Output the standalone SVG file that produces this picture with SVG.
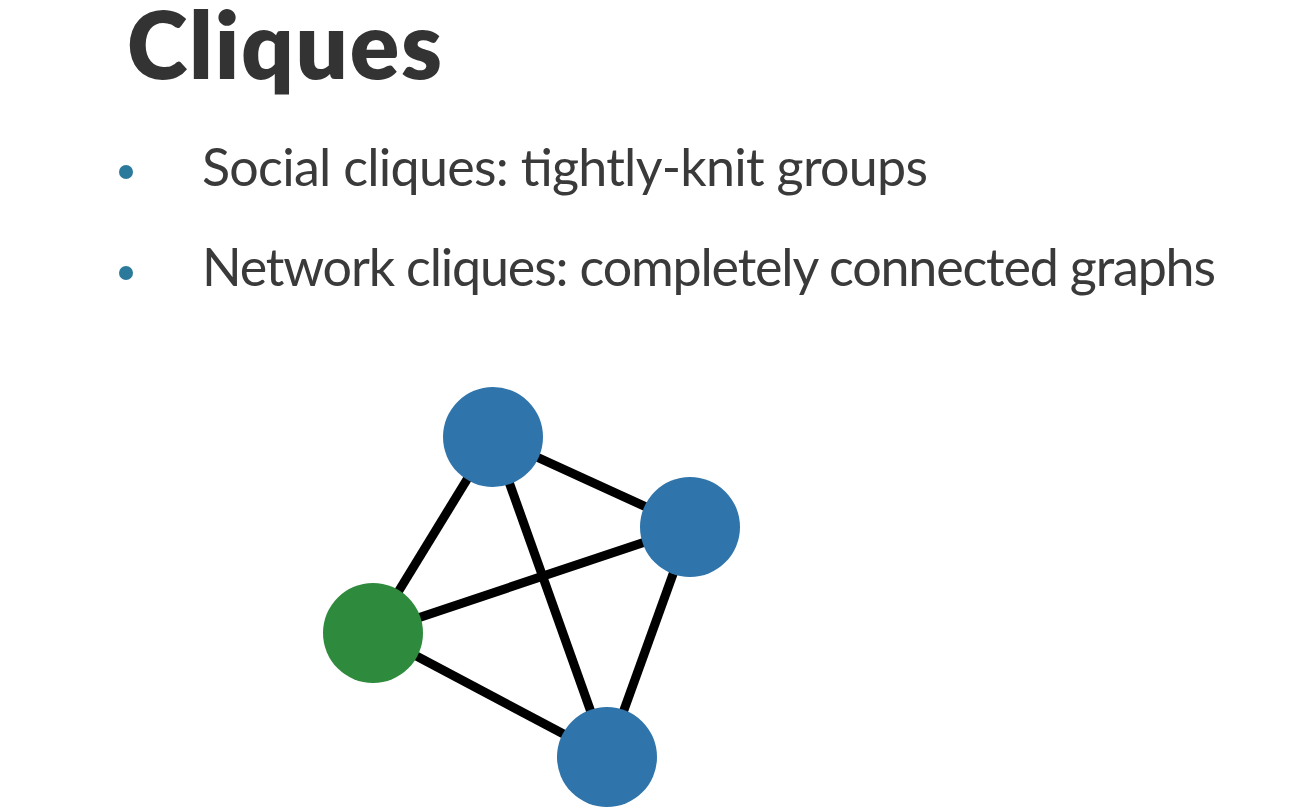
<svg xmlns="http://www.w3.org/2000/svg" width="1306" height="808" viewBox="0 0 1306 808">
<style>
.title{font-family:"Lato","Open Sans","Liberation Sans",sans-serif;font-weight:800;font-size:92px;fill:#333333}
.body{font-family:"Lato","Open Sans","Liberation Sans",sans-serif;font-weight:400;font-size:52px;fill:#3a3a3a}
.bullet{fill:#2b7a9c}
.edge{stroke:#000000;stroke-width:9;stroke-linecap:butt}
.blue{fill:#2f74aa}
.green{fill:#2e8a3c}
</style>
<rect width="1306" height="808" fill="#ffffff"/>
<g id="title"><text class="title" x="127" y="79" textLength="315" lengthAdjust="spacing">Cliques</text></g>
<g id="bullet1">
<circle class="bullet" cx="126" cy="172" r="7"/>
<text class="body" x="202" y="186" textLength="726" lengthAdjust="spacing">Social cliques: tightly-knit groups</text>
</g>
<g id="bullet2">
<circle class="bullet" cx="126" cy="273" r="7"/>
<text class="body" x="202" y="286" textLength="1014" lengthAdjust="spacing">Network cliques: completely connected graphs</text>
</g>
<g id="connectors">
<line class="edge" x1="493" y1="437" x2="690" y2="527"/>
<line class="edge" x1="493" y1="437" x2="373" y2="633"/>
<line class="edge" x1="493" y1="437" x2="607" y2="757"/>
<line class="edge" x1="690" y1="527" x2="373" y2="633"/>
<line class="edge" x1="690" y1="527" x2="607" y2="757"/>
<line class="edge" x1="373" y1="633" x2="607" y2="757"/>
</g>
<g id="node-top"><circle class="blue" cx="493" cy="437" r="50"/></g>
<g id="node-right"><circle class="blue" cx="690" cy="527" r="50"/></g>
<g id="node-left"><circle class="green" cx="373" cy="633" r="50"/></g>
<g id="node-bottom"><circle class="blue" cx="607" cy="757" r="50"/></g>
</svg>
